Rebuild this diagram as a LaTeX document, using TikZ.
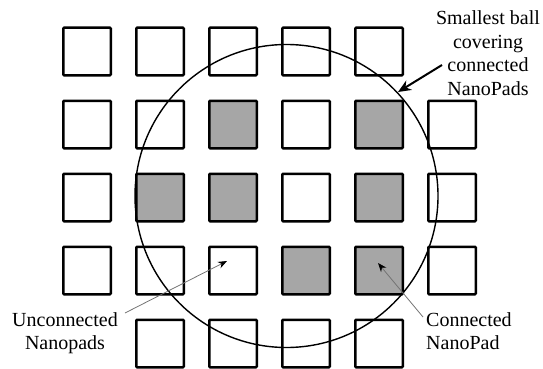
\documentclass[tikz,border=0pt]{standalone}
\usepackage{fontspec}
\setmainfont{Liberation Serif}
\usetikzlibrary{arrows.meta}
\definecolor{padgray}{HTML}{A6A6A6}
\begin{document}
\begin{tikzpicture}[x=1pt,y=-1pt,
  pad/.style={draw=black,line width=2.5pt,minimum size=47.5pt,inner sep=0pt,fill=white,rounded corners=0.8pt},
  cpad/.style={pad,fill=padgray},
  lbl/.style={font=\fontsize{20}{23.5}\selectfont,inner sep=0pt},
  thinarrow/.style={draw=gray!90!black,line width=0.8pt,-{Stealth[black,length=9pt,width=7pt]}},
  bigarrow/.style={draw=black,line width=2pt,-{Stealth[length=13pt,width=11pt]}}]
\useasboundingbox (0,0) rectangle (543,369);
% grid of pads: rows r=1..5, cols c=1..6
\foreach \r/\c/\s in {1/1/pad,1/2/pad,1/3/pad,1/4/pad,1/5/pad,
  2/1/pad,2/2/pad,2/3/cpad,2/4/pad,2/5/cpad,2/6/pad,
  3/1/pad,3/2/cpad,3/3/cpad,3/4/pad,3/5/cpad,3/6/pad,
  4/1/pad,4/2/pad,4/3/pad,4/4/cpad,4/5/cpad,4/6/pad,
  5/2/pad,5/3/pad,5/4/pad,5/5/pad}
  \node[\s] (p\r\c) at ({87+73*(\c-1)},{51.5+73*(\r-1)}) {};
% covering ball
\draw[line width=1.4pt] (286.5,196) circle[radius=151.5];
% labels
\node[lbl,align=center,anchor=north] (ball) at (488,10.5) {Smallest ball\\covering\\connected\\NanoPads};
\node[lbl,align=center,anchor=north] (unc) at (65,312) {Unconnected\\Nanopads};
\node[lbl,align=left,anchor=north west] (con) at (426,312) {Connected\\NanoPad};
% connectors
\coordinate (ballS) at (442,65);
\coordinate (ballT) at (398,92);
\coordinate (uncS) at (125,313);
\coordinate (conS) at (423,317);
\draw[bigarrow] (ballS) -- (ballT);
\draw[thinarrow] (uncS) -- ([xshift=-6pt,yshift=9.5pt]p43.center);
\draw[thinarrow] (conS) -- ([xshift=-1pt,yshift=7.5pt]p45.center);
\end{tikzpicture}
\end{document}
